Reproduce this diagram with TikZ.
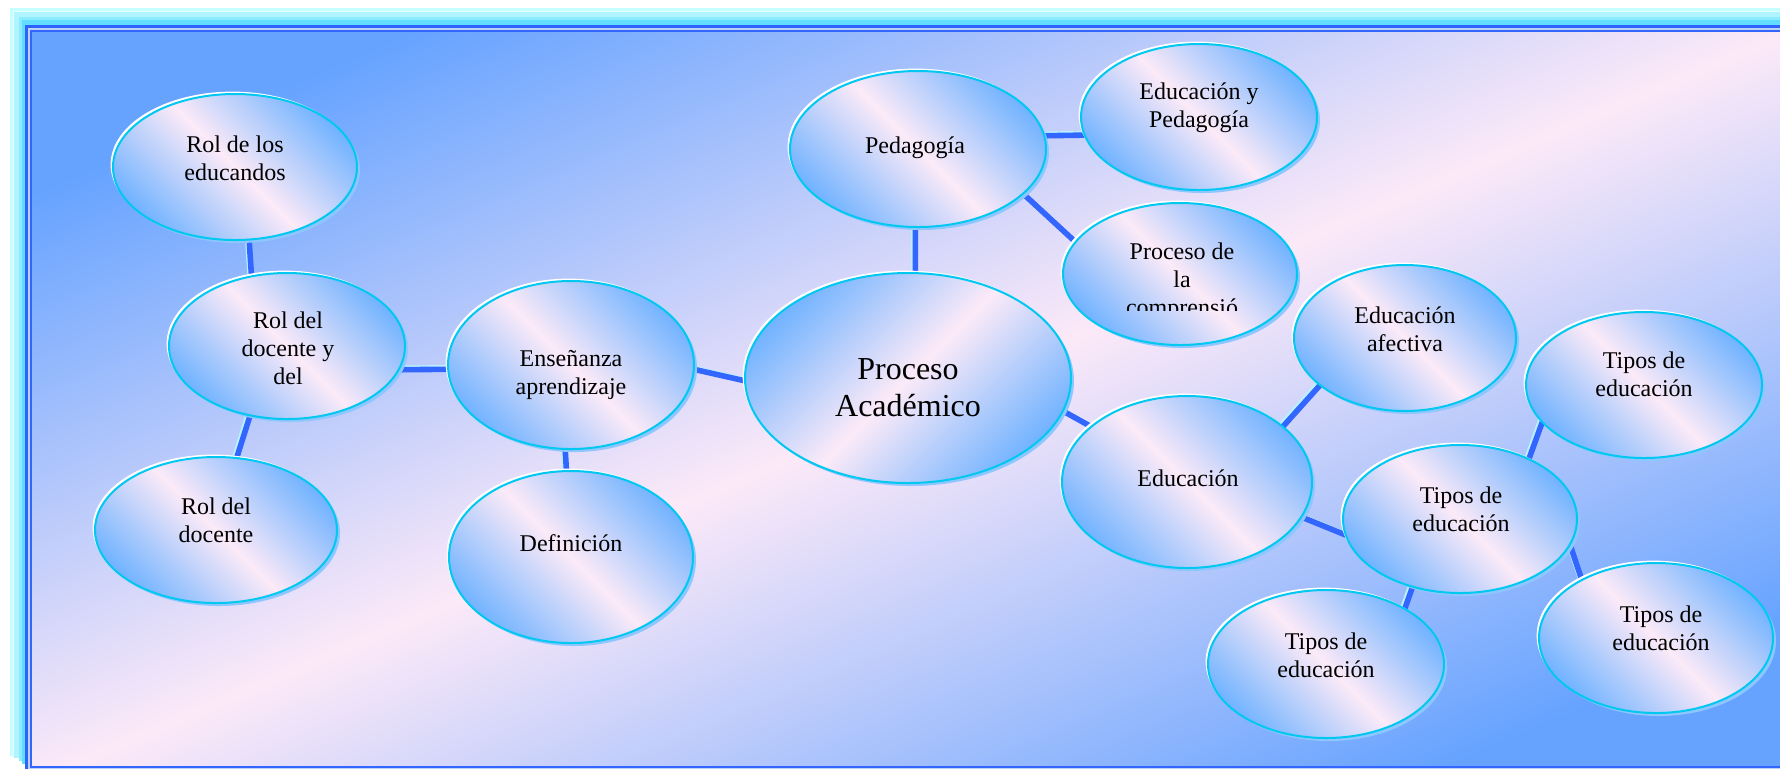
\documentclass[tikz,border=0pt]{standalone}
\usepackage{fontspec}
\setmainfont{Liberation Serif}
\usetikzlibrary{shapes.geometric}
\definecolor{bgblue}{HTML}{66A3FF}
\definecolor{bgpink}{HTML}{FCE9F8}
\definecolor{elblue}{HTML}{74B4FF}
\definecolor{elpink}{HTML}{FCEAF8}
\definecolor{rimcyan}{HTML}{00C8F0}
\definecolor{shadowblue}{HTML}{8EC6FF}
\definecolor{linkblue}{HTML}{3366FF}
\definecolor{linklight}{HTML}{B8F2FF}
\definecolor{frA}{HTML}{C6FFFF}
\definecolor{frB}{HTML}{E8FFFF}
\definecolor{frC}{HTML}{B0F4FF}
\definecolor{frD}{HTML}{8CECFF}
\definecolor{frE}{HTML}{62DCFF}
\definecolor{frF}{HTML}{2E62FF}
\definecolor{frG}{HTML}{BFD0F5}
\pgfdeclarelayer{bg}
\pgfdeclarelayer{links}
\pgfsetlayers{bg,links,main}
\tikzset{
  ell/.style 2 args={ellipse, inner sep=0pt, outer sep=0pt,
    minimum width=#1pt, minimum height=#2pt,
    preaction={fill=shadowblue, transform canvas={xshift=1.5pt, yshift=-1.5pt}},
    preaction={fill=white, transform canvas={xshift=-1.2pt, yshift=1.2pt}},
    top color=elblue, bottom color=elblue, middle color=elpink, shading angle=-45,
    draw=rimcyan, line width=1pt},
  txt/.style={align=center, inner sep=0pt, text=black,
    font=\fontsize{12pt}{14pt}\selectfont},
  bigtxt/.style={align=center, inner sep=0pt, text=black,
    font=\fontsize{16pt}{18.5pt}\selectfont},
  link/.style={draw=linkblue, line width=2.8pt,
    preaction={draw=linklight, line width=2pt, transform canvas={xshift=-1.1pt, yshift=1.1pt}}}
}
\begin{document}
\begin{tikzpicture}[x=0.5pt, y=-0.5pt]
\useasboundingbox (0,0) rectangle (1780,768);
\clip (0,0) rectangle (1780,768);
\begin{pgfonlayer}{bg}
\fill[white] (0,0) rectangle (1780,768);
\fill[frA] (9.5,8) rectangle (1800,756);
\fill[frB] (13,11) rectangle (1800,757);
\fill[frC] (14,12) rectangle (1800,758);
\fill[frD] (19,17) rectangle (1800,761);
\fill[frE] (22,20) rectangle (1800,764);
\fill[frF] (25,25) rectangle (1800,769);
\fill[frG] (28,28) rectangle (1800,769);
\begin{scope}
\clip (31,31) rectangle (1782,767);
\fill[bgblue] (31,31) rectangle (1782,767);
\begin{scope}[transform canvas={rotate around={23.1:(950,390)}}]
\shade[top color=bgblue, bottom color=bgblue, middle color=bgpink]
  (-700,-150) rectangle (2600,930);
\end{scope}
\end{scope}
\draw[linkblue, line width=1pt] (31,31) rectangle (1782,767);
\end{pgfonlayer}

% ellipses
\node[ell={122}{73}] (a1) at (235,167) {};
\node[ell={118}{73}] (a2) at (287,346) {};
\node[ell={121}{73}] (a3) at (216,530) {};
\node[ell={123}{84}] (b1) at (571,365) {};
\node[ell={122}{86}] (b2) at (571,557) {};
\node[ell={163}{105}, shading angle=45] (c) at (908,378) {};
\node[ell={128}{78}] (d1) at (918,149) {};
\node[ell={118}{73}] (d2) at (1199,117) {};
\node[ell={117}{71}] (d3) at (1180,274) {};
\node[ell={111}{73}] (e1) at (1405,338) {};
\node[ell={118}{73}] (f1) at (1644,385) {};
\node[ell={125}{86}] (e) at (1187,482) {};
\node[ell={117}{74}] (f) at (1460,519) {};
\node[ell={118}{74}] (f2) at (1326,664) {};
\node[ell={117}{75}] (f3) at (1656,638) {};

% texts
\node[txt] (ta1) at (235,158) {Rol de los\\educandos};
\node[txt] (ta2) at (288,348) {Rol del\\docente y\\del};
\node[txt] (ta3) at (216,520) {Rol del\\docente};
\node[txt] (tb1) at (571,375) {Enseñanza\\aprendizaje};
\node[txt] (tb2) at (571,543) {Definición};
\node[bigtxt] (tc) at (908,388) {Proceso\\Académico};
\node[txt] (td1) at (915,148) {Pedagogía};
\node[txt] (td2) at (1199,108) {Educación y\\Pedagogía};
\begin{scope}
\clip (1050,200) rectangle (1320,310);
\node[txt] (td3) at (1182,282) {Proceso de\\la\\comprensió};
\end{scope}
\node[txt] (te1) at (1405,329) {Educación\\afectiva};
\node[txt] (tf1) at (1644,374) {Tipos de\\educación};
\node[txt] (te) at (1188,478) {Educación};
\node[txt] (tf) at (1461,509) {Tipos de\\educación};
\node[txt] (tf2) at (1326,655) {Tipos de\\educación};
\node[txt] (tf3) at (1661,628) {Tipos de\\educación};

% connectors
\begin{pgfonlayer}{links}
\draw[link] (a1.-79) -- (a2.117);
\draw[link] (a2.242) -- (a3.74);
\draw[link] (a2.-12) -- (b1.182);
\draw[link] (b1.-94) -- (b2.93);
\draw[link] (b1.-2) -- (c.181);
\draw[link] (c.86) -- (d1.-92);
\draw[link] (d1.6) -- (d2.189);
\draw[link] (d1.-23) -- (d3.163);
\draw[link] (c.-12) -- (e.150);
\draw[link] (e.30) -- (e1.209);
\draw[link] (e.-17) -- (f.188);
\draw[link] (f.41) -- (f1.200);
\draw[link] (f.235) -- (f2.35);
\draw[link] (f.-13) -- (f3.142);
\end{pgfonlayer}
\end{tikzpicture}
\end{document}
